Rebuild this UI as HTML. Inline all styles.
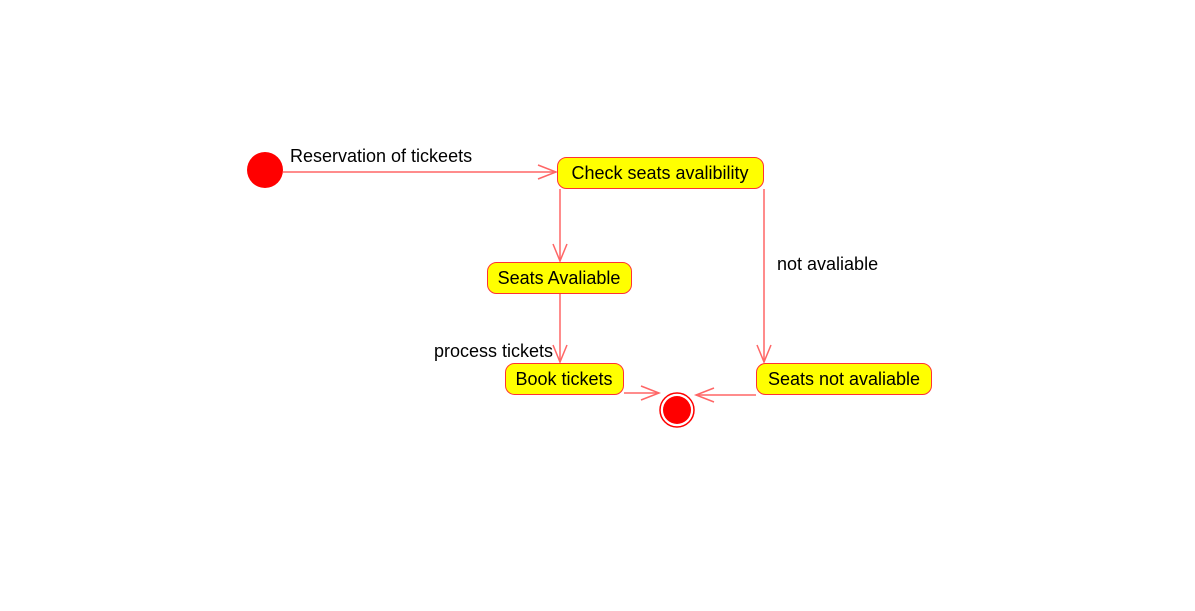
<!DOCTYPE html>
<html><head><meta charset="utf-8"><style>
html,body{margin:0;padding:0;background:#fff;}
svg text{font-family:"Liberation Sans",Arial,sans-serif;font-size:18px;fill:#000;}
</style></head><body>
<svg width="1195" height="606" xmlns="http://www.w3.org/2000/svg">
<g stroke="#ff6666" stroke-width="1.5" fill="none">
<line x1="283" y1="172" x2="556" y2="172"/>
<polyline points="538,165 556,172 538,179"/>
<line x1="560" y1="189" x2="560" y2="261"/>
<polyline points="553,244 560,261 567,244"/>
<line x1="560" y1="294" x2="560" y2="362"/>
<polyline points="553,345 560,362 567,345"/>
<line x1="764" y1="189" x2="764" y2="362"/>
<polyline points="757,345 764,362 771,345"/>
<line x1="624" y1="393" x2="659" y2="393"/>
<polyline points="641,386 659,393 641,400"/>
<line x1="756" y1="395" x2="696" y2="395"/>
<polyline points="714,388 696,395 714,402"/>
</g>
<circle cx="265" cy="170" r="18" fill="#ff0000"/>
<circle cx="677" cy="410" r="17" fill="#fff" stroke="#ff0000" stroke-width="1.5"/>
<circle cx="677" cy="410" r="14" fill="#ff0000"/>
<g fill="#ffff00" stroke="#ff3333" stroke-width="1">
<rect x="557.5" y="157.5" width="206" height="31" rx="9"/>
<rect x="487.5" y="262.5" width="144" height="31" rx="9"/>
<rect x="505.5" y="363.5" width="118" height="31" rx="9"/>
<rect x="756.5" y="363.5" width="175" height="31" rx="9"/>
</g>
<text x="660" y="179" text-anchor="middle">Check seats avalibility</text>
<text x="559" y="284" text-anchor="middle">Seats Avaliable</text>
<text x="564" y="385" text-anchor="middle">Book tickets</text>
<text x="844" y="385" text-anchor="middle">Seats not avaliable</text>
<text x="290" y="162">Reservation of tickeets</text>
<text x="777" y="270">not avaliable</text>
<text x="434" y="357">process tickets</text>
</svg>
</body></html>
